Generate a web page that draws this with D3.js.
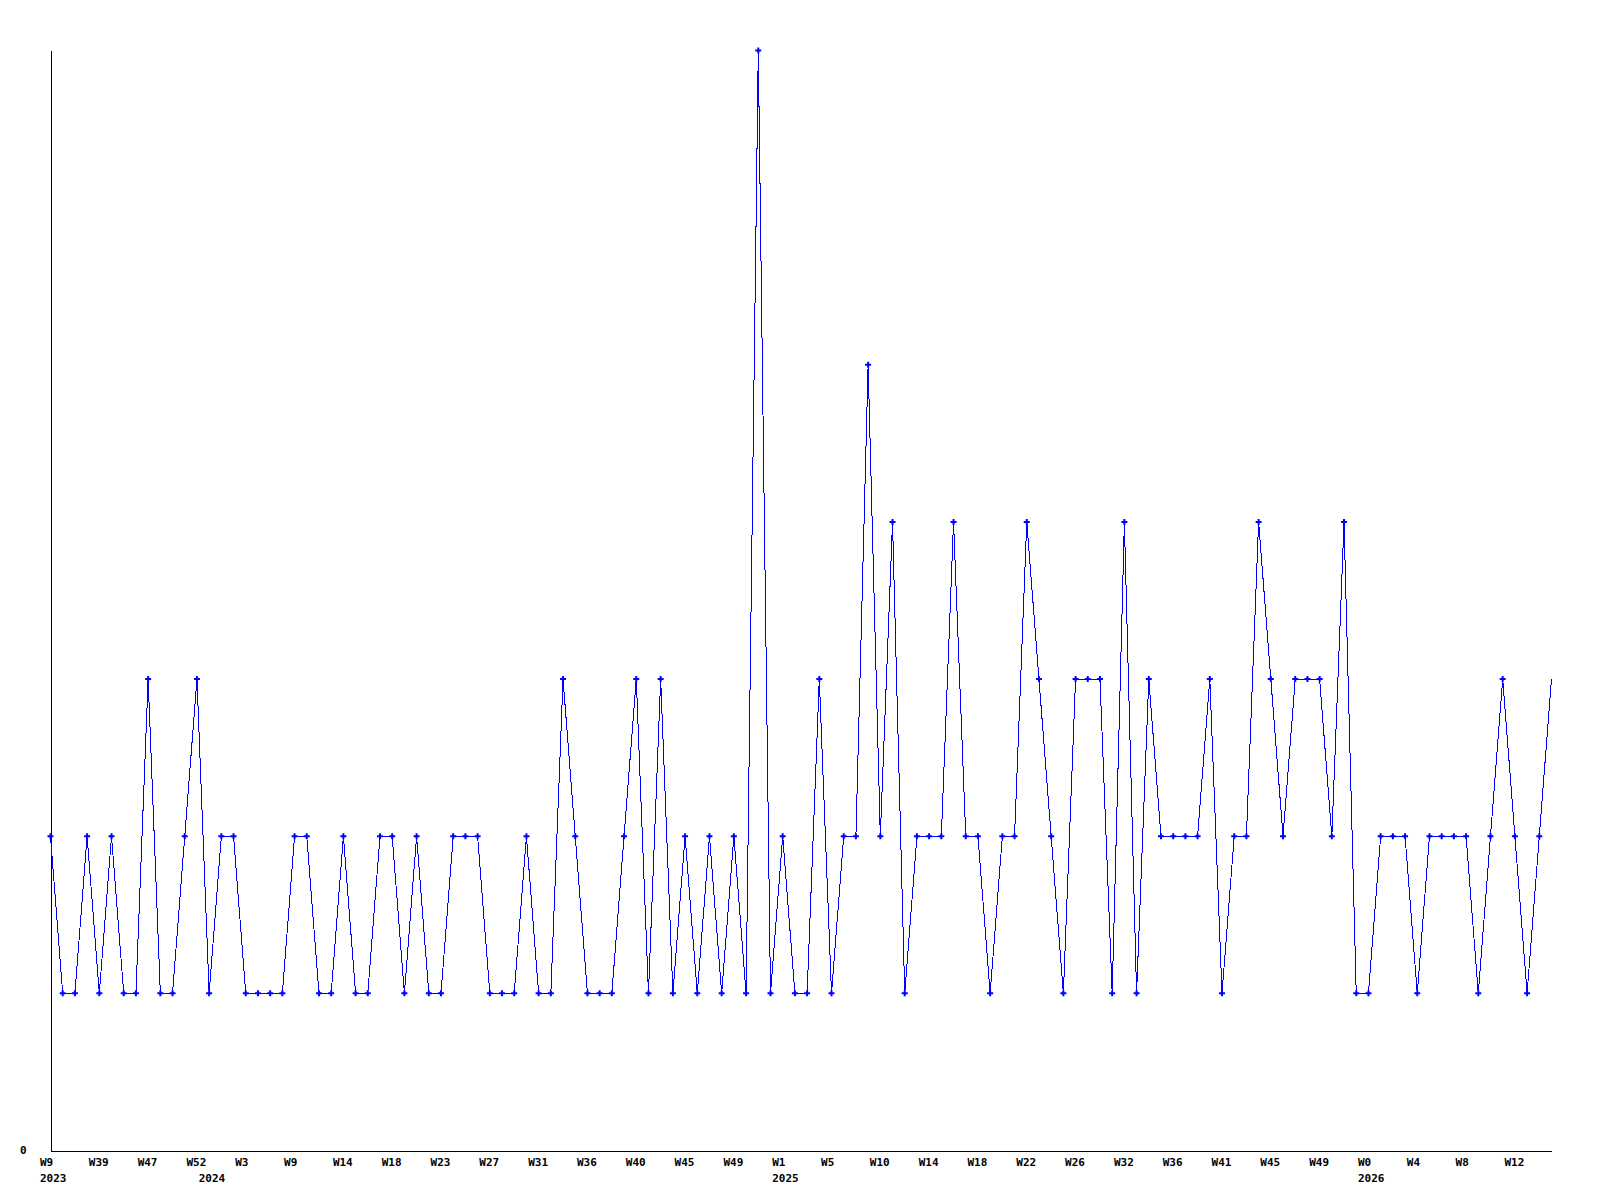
<!DOCTYPE html>
<html>
<head>
<meta charset="utf-8">
<script src="https://cdn.jsdelivr.net/npm/d3@7"></script>
<style>
  body { margin: 0; background: #fff; }
  text { font-family: "DejaVu Sans Mono", monospace; font-weight: bold; font-size: 11px; fill: #000; }
</style>
</head>
<body>
<div id="chart"></div>
<script>
// weekly counts, one per point
const values = [
  2,1,1,2,1,2,1,1,3,1,1,2,3,1,2,2,1,1,1,1,2,
  2,1,1,2,1,1,2,2,1,2,1,1,2,2,2,1,1,1,2,1,1,
  3,2,1,1,1,2,3,1,3,1,2,1,2,1,2,1,7,1,2,1,
  1,3,1,2,2,5,2,4,1,2,2,2,4,2,2,1,2,2,4,3,2,
  1,3,3,3,1,4,1,3,2,2,2,2,3,1,2,2,4,3,2,3,
  3,3,2,4,1,1,2,2,2,1,2,2,2,2,1,2,3,2,1,2,3
];
// a week label on every 4th point
const weekLabels = ["W9","W39","W47","W52","W3","W9","W14","W18","W23","W27","W31",
  "W36","W40","W45","W49","W1","W5","W10","W14","W18","W22","W26","W32","W36",
  "W41","W45","W49","W0","W4","W8","W12"];
const yearLabels = ["2023","2024","2025","2026"];
const yearIndex = [0, 13, 60, 108];
const yTicks = [0];

const width = 1600, height = 1200;
const margin = {top: 50, right: 49, bottom: 50, left: 50};

let svg = d3.select("#chart")
    .append("svg")
    .attr("width", width)
    .attr("height", height);

let x = d3.scaleLinear()
    .domain([0, values.length - 1])
    .range([margin.left + 0.5, width - margin.right + 0.5]);

let y = d3.scaleLinear()
    .domain([0, 7])
    .range([height - margin.bottom + 0.5, margin.top + 0.5]);

// x axis with week labels
let xAxis = svg.append("g")
    .attr("transform", `translate(0, ${y(0)})`)
    .call(d3.axisBottom(x)
        .tickValues(d3.range(0, values.length, 4))
        .tickFormat((d, i) => weekLabels[i])
        .tickSize(0)
        .tickSizeOuter(0));
xAxis.select(".domain").attr("stroke", "#000").attr("shape-rendering", "crispEdges");
xAxis.selectAll("text")
    .attr("text-anchor", "start")
    .attr("x", -11)
    .attr("y", 15)
    .attr("dy", null);

// year row under the weeks
let yearAxis = svg.append("g")
    .attr("transform", `translate(0, ${y(0)})`)
    .call(d3.axisBottom(x)
        .tickValues(yearIndex)
        .tickFormat((d, i) => yearLabels[i])
        .tickSize(0)
        .tickSizeOuter(0));
yearAxis.select(".domain").remove();
yearAxis.selectAll("text")
    .attr("text-anchor", "start")
    .attr("x", -11)
    .attr("y", 31)
    .attr("dy", null);

// y axis, only the zero label
let yAxis = svg.append("g")
    .attr("transform", `translate(${x(0)}, 0)`)
    .call(d3.axisLeft(y)
        .tickValues(yTicks)
        .tickFormat(d3.format("d"))
        .tickSize(0)
        .tickSizeOuter(0)
        .tickPadding(24));
yAxis.select(".domain").attr("stroke", "#000").attr("shape-rendering", "crispEdges");
yAxis.selectAll("text").attr("dy", "0.3em").style("font-family", "\"DejaVu Sans Mono\", monospace");

// the series
let line = d3.line()
    .x((d, i) => x(i))
    .y(d => y(d));

svg.append("path")
    .datum(values)
    .attr("fill", "none")
    .attr("stroke", "#0000ff")
    .attr("stroke-width", 1)
    .attr("shape-rendering", "crispEdges")
    .attr("d", line);

// point markers (last one sits on the edge and is not drawn)
let marker = d3.symbol().type(d3.symbolCross).size(20);
svg.append("g")
    .selectAll("path")
    .data(values.slice(0, values.length - 1))
    .enter()
    .append("path")
    .attr("d", marker)
    .attr("fill", "#0000ff")
    .attr("transform", (d, i) => `translate(${x(i)}, ${y(d)})`);
</script>
</body>
</html>
